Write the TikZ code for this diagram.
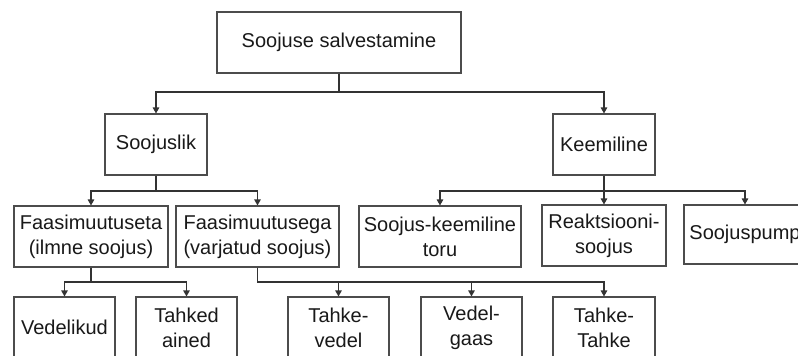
\documentclass[tikz,border=0pt]{standalone}
\usepackage{fontspec}
\setmainfont{Liberation Sans}
\usetikzlibrary{arrows.meta}
\begin{document}
\begin{tikzpicture}[x=1pt,y=-1pt,
  box/.style={draw=black!70, line width=1.1pt, fill=white, inner sep=0pt, align=center,
    font=\fontsize{20}{25}\selectfont, text=black!90},
  conn/.style={draw=black!80, line width=1.1pt, -{Triangle[length=6pt,width=6.5pt]}},
  stem/.style={draw=black!80, line width=1.1pt}]
\useasboundingbox (0,0) rectangle (798,356);
\clip (0,0) rectangle (798,356);
\fill[white] (0,0) rectangle (798,356);
% row 1
\node[box, minimum width=244pt, minimum height=61pt] (top) at (339,42.5) {Soojuse salvestamine};
% row 2
\node[box, minimum width=102pt, minimum height=61pt] (sl) at (156,144.5) {Soojuslik};
\node[box, minimum width=102pt, minimum height=61pt] (ke) at (604,144.5) {Keemiline};
% row 3
\node[box, minimum width=154pt, minimum height=61pt] (fa1) at (91,236.5) {Faasimuutuseta\\(ilmne soojus)};
\node[box, minimum width=163pt, minimum height=61pt] (fa2) at (257.5,236.5) {Faasimuutusega\\(varjatud soojus)};
\node[box, minimum width=162pt, minimum height=61pt] (skt) at (440,236.5) {Soojus-keemiline\\toru};
\node[box, minimum width=124pt, minimum height=61pt] (rs) at (604,235.5) {Reaktsiooni-\\soojus};
\node[box, minimum width=122pt, minimum height=59pt] (sp) at (745,234.5) {Soojuspump};
% row 4
\node[box, minimum width=101pt, minimum height=61pt] (ve) at (64.5,327.5) {Vedelikud};
\node[box, minimum width=101pt, minimum height=61pt] (ta) at (186.5,327.5) {Tahked\\ained};
\node[box, minimum width=101pt, minimum height=61pt] (tv) at (338.5,327.5) {Tahke-\\vedel};
\node[box, minimum width=101pt, minimum height=61pt] (vg) at (471.5,327.5) {Vedel-\\gaas};
\node[box, minimum width=102pt, minimum height=61pt] (tt) at (604,327.5) {Tahke-\\Tahke};
% junction levels
\coordinate (j1) at (0,92);
\coordinate (j2) at (0,191);
\coordinate (j3) at (0,282);
% connectors
\draw[conn] (top.south) -- (top.south |- j1) -| (sl.north);
\draw[conn] (top.south) -- (top.south |- j1) -| (ke.north);
\draw[conn] (sl.south) -- (sl.south |- j2) -| (fa1.north);
\draw[conn] (sl.south) -- (sl.south |- j2) -| (fa2.north);
\draw[conn] (ke.south) -- (ke.south |- j2) -| (skt.north);
\draw[conn] (ke.south) -- (rs.north);
\draw[conn] (ke.south) -- (ke.south |- j2) -| (sp.north);
\draw[conn] (fa1.south) -- (fa1.south |- j3) -| (ve.north);
\draw[conn] (fa1.south) -- (fa1.south |- j3) -| (ta.north);
\draw[conn] (fa2.south) -- (fa2.south |- j3) -| (tv.north);
\draw[conn] (fa2.south) -- (fa2.south |- j3) -| (vg.north);
\draw[conn] (fa2.south) -- (fa2.south |- j3) -| (tt.north);
\end{tikzpicture}
\end{document}
